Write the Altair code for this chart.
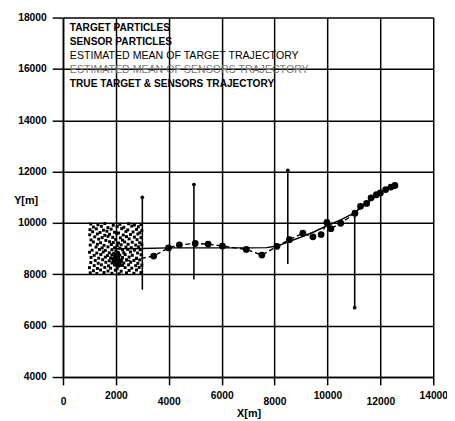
import altair as alt
import pandas as pd

# ---- data ----
TICKS_X = [0, 2000, 4000, 6000, 8000, 10000, 12000, 14000]
TICKS_Y = [4000, 6000, 8000, 10000, 12000, 14000, 16000, 18000]

LEGEND_LABELS = [
    "TARGET PARTICLES",
    "SENSOR PARTICLES",
    "ESTIMATED MEAN OF TARGET TRAJECTORY",
    "ESTIMATED MEAN OF SENSORS TRAJECTORY",
    "TRUE TARGET & SENSORS TRAJECTORY",
]

TARGET_X = [
    1050, 1320, 1580, 1900, 2150, 2480, 2700, 2950,
    1150, 1450, 1700, 2050, 2300, 2600, 2850,
    1020, 1260, 1530, 1820, 2220, 2450, 2780, 2980,
    1120, 1400, 1660, 1950, 2100, 2380, 2650, 2900,
    1010, 1300, 1580, 1760, 2030, 2280, 2550, 2830,
    1200, 1480, 1700, 1880, 2170, 2400, 2700, 2950,
    1060, 1350, 1620, 1990, 2250, 2500, 2800,
    1150, 1420, 1760, 1900, 2100, 2330, 2620, 2900,
    1030, 1300, 1550, 1830, 2050, 2200, 2460, 2750, 2980,
    1250, 1480, 1700, 1950, 2150, 2380, 2580, 2860,
    1100, 1380, 1600, 1850, 2000, 2250, 2450, 2700, 2920,
    1000, 1280, 1520, 1750, 1920, 2080, 2300, 2550, 2820,
    1180, 1430, 1680, 1850, 2000, 2150, 2350, 2620, 2950,
    1060, 1350, 1600, 1800, 1950, 2100, 2250, 2500, 2780,
    1220, 1500, 1750, 1900, 2050, 2200, 2400, 2680, 2900,
    1050, 1330, 1620, 1850, 2000, 2150, 2300, 2560, 2830,
    1180, 1450, 1720, 1950, 2100, 2250, 2480, 2750, 2980,
    1000, 1300, 1580, 1800, 2050, 2350, 2600, 2880,
    1150, 1420, 1700, 1980, 2200, 2500, 2780,
    1030, 1280, 1550, 1850, 2120, 2400, 2680, 2950,
    1900, 1980, 2050, 2120, 2200, 1950, 2030, 2150, 2250, 1880, 2000, 2100, 2180, 2060, 1960,
]
TARGET_Y = [
    9960, 9930, 9980, 9910, 9950, 9970, 9920, 9940,
    9840, 9870, 9820, 9860, 9830, 9880, 9850,
    9740, 9770, 9720, 9760, 9780, 9730, 9750, 9710,
    9660, 9630, 9680, 9640, 9610, 9670, 9650, 9620,
    9540, 9570, 9520, 9560, 9580, 9530, 9550, 9570,
    9460, 9430, 9480, 9440, 9420, 9470, 9450, 9430,
    9340, 9370, 9320, 9360, 9330, 9380, 9350,
    9260, 9230, 9270, 9240, 9220, 9260, 9250, 9230,
    9140, 9170, 9130, 9160, 9120, 9150, 9170, 9140, 9160,
    9060, 9030, 9070, 9040, 9020, 9060, 9040, 9070,
    8940, 8970, 8930, 8960, 8920, 8950, 8970, 8940, 8960,
    8860, 8830, 8870, 8840, 8820, 8860, 8840, 8870, 8830,
    8740, 8770, 8730, 8760, 8720, 8750, 8770, 8740, 8760,
    8660, 8630, 8670, 8640, 8620, 8660, 8640, 8670, 8630,
    8540, 8570, 8530, 8560, 8520, 8550, 8570, 8540, 8560,
    8460, 8430, 8470, 8440, 8420, 8460, 8440, 8470, 8430,
    8340, 8370, 8330, 8360, 8320, 8350, 8370, 8340, 8360,
    8260, 8230, 8270, 8240, 8220, 8260, 8240, 8270,
    8140, 8170, 8130, 8160, 8120, 8150, 8170,
    8060, 8030, 8070, 8040, 8020, 8060, 8040, 8070,
    8500, 8560, 8480, 8600, 8520, 8700, 8380, 8420, 8650, 8620, 8780, 8820, 8350, 8700, 8440,
]

SENSOR_X = [3000, 4950, 8500, 11030]
SENSOR_Y_LOW = [7400, 7800, 8400, 6700]
SENSOR_Y_HIGH = [11000, 11500, 12050, 10400]

EST_X = [2070, 3430, 3990, 4400, 5000, 5490, 6030, 6930, 7520, 8090, 8560, 9070, 9450,
         9760, 9980, 10130, 10500, 11040, 11250, 11480, 11650, 11850, 12000, 12200, 12400, 12550]
EST_Y = [8460, 8710, 9030, 9150, 9200, 9180, 9100, 8970, 8750, 9090, 9350, 9600, 9460,
         9550, 10020, 9780, 9990, 10380, 10650, 10760, 10980, 11100, 11170, 11300, 11400, 11460]

TRUE_X = [2000, 3000, 4000, 5000, 6000, 7000, 7700, 8100, 8500, 9000, 9500, 10000,
          10500, 11000, 11500, 12000, 12500]
TRUE_Y = [9000, 9010, 9030, 9030, 9030, 9030, 9040, 9100, 9260, 9450, 9660, 9900,
          10120, 10380, 10780, 11170, 11480]

FONT = "Liberation Sans"

target_df = pd.DataFrame({"x": TARGET_X, "y": TARGET_Y})
sensor_df = pd.DataFrame({"x": SENSOR_X, "y": SENSOR_Y_LOW, "y2": SENSOR_Y_HIGH})
sensor_ends = pd.DataFrame({"x": SENSOR_X[:3] + [SENSOR_X[3]],
                            "y": SENSOR_Y_HIGH[:3] + [SENSOR_Y_LOW[3]]})
est_df = pd.DataFrame({"x": EST_X, "y": EST_Y})
true_df = pd.DataFrame({"x": TRUE_X, "y": TRUE_Y})

xscale = alt.Scale(domain=[0, 14000], nice=False, zero=False)
yscale = alt.Scale(domain=[4000, 18000], nice=False, zero=False)

x_axis = alt.Axis(
    values=TICKS_X, format="d", grid=True, gridColor="black", gridWidth=1.5, gridOpacity=1,
    domainColor="black", domainWidth=1.6, tickColor="black", tickSize=8, tickWidth=1.5,
    labelFont=FONT, labelFontWeight="bold", labelFontSize=10.5, labelColor="black",
    labelPadding={"condition": {"test": "datum.value % 4000 == 0", "value": 12}, "value": 6},
    labelFlush=False,
    title="X[m]", titleFont=FONT, titleFontWeight="bold", titleFontSize=11,
    titleColor="black", titleX=189, titleY=37, titleAlign="center", titleBaseline="middle",
)
y_axis = alt.Axis(
    values=TICKS_Y, format="d", grid=True, gridColor="black", gridWidth=1.5, gridOpacity=1,
    domainColor="black", domainWidth=1.6, tickColor="black", tickSize=11, tickWidth=1.5,
    labelFont=FONT, labelFontWeight="bold", labelFontSize=10.5, labelColor="black",
    labelPadding=6, labelFlush=False,
    title="Y[m]", titleFont=FONT, titleFontWeight="bold", titleFontSize=11,
    titleColor="black", titleAngle=0, titleX=-38, titleY=186, titleAlign="center",
    titleBaseline="middle",
)

X = alt.X("x:Q", scale=xscale, axis=x_axis)
Y = alt.Y("y:Q", scale=yscale, axis=y_axis)

base_axes = alt.Chart(true_df).mark_point(opacity=0).encode(x=X, y=Y)

target = alt.Chart(target_df).mark_square(size=9, color="black", opacity=1).encode(
    x=alt.X("x:Q", scale=xscale), y=alt.Y("y:Q", scale=yscale))

sensors = alt.Chart(sensor_df).mark_rule(color="black", strokeWidth=1.6).encode(
    x=alt.X("x:Q", scale=xscale), y=alt.Y("y:Q", scale=yscale), y2="y2:Q")

sensor_tips = alt.Chart(sensor_ends).mark_circle(size=14, color="black", opacity=1).encode(
    x=alt.X("x:Q", scale=xscale), y=alt.Y("y:Q", scale=yscale))

true_line = alt.Chart(true_df).mark_line(color="black", strokeWidth=1.5).encode(
    x=alt.X("x:Q", scale=xscale), y=alt.Y("y:Q", scale=yscale), order=alt.Order("x:Q"))

est_line = alt.Chart(est_df).mark_line(color="black", strokeWidth=1.4, strokeDash=[5, 3]).encode(
    x=alt.X("x:Q", scale=xscale), y=alt.Y("y:Q", scale=yscale), order=alt.Order("x:Q"))

est_pts = alt.Chart(est_df).mark_circle(size=48, color="black", opacity=1).encode(
    x=alt.X("x:Q", scale=xscale), y=alt.Y("y:Q", scale=yscale))

legend_layers = []
legend_weights = ["bold", "bold", "normal", "normal", "bold"]
legend_colors = ["black", "black", "black", "#777777", "black"]
legend_sizes = [10.3, 10.3, 10.8, 10.8, 10.3]
for i, lab in enumerate(LEGEND_LABELS):
    legend_layers.append(
        alt.Chart(pd.DataFrame({"t": [lab]})).mark_text(
            align="left", baseline="middle", font=FONT,
            fontSize=legend_sizes[i], fontWeight=legend_weights[i], color=legend_colors[i],
        ).encode(x=alt.value(7), y=alt.value(10.5 + 14.2 * i), text="t:N")
    )

chart = alt.layer(
    base_axes, target, sensors, sensor_tips, true_line, est_line, est_pts, *legend_layers
).properties(
    width=377, height=366,
    autosize=alt.AutoSizeParams(type="none"),
    padding={"left": 56, "top": 6, "right": 14, "bottom": 40},
    background="white",
).configure_view(stroke=None)

chart.save("out.html", embed_options={"renderer": "svg", "actions": False})
